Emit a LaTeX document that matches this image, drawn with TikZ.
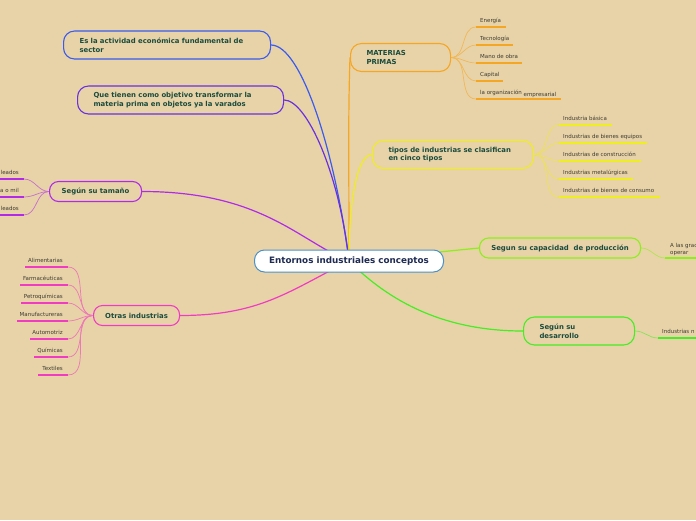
\documentclass[tikz,border=0pt]{standalone}
\usepackage{fontspec}
\setmainfont{DejaVu Sans}
\usetikzlibrary{backgrounds,calc}
\definecolor{bg}{HTML}{E8D3A8}
\definecolor{nodetext}{HTML}{1A4B3C}
\definecolor{leaftext}{HTML}{3D3A30}
\definecolor{cblue}{HTML}{3A5AF0}
\definecolor{cpurple}{HTML}{6A30E0}
\definecolor{corange}{HTML}{F5A623}
\definecolor{cyellow}{HTML}{EEEE22}
\definecolor{cviolet}{HTML}{B02AE8}
\definecolor{cpink}{HTML}{F03CC0}
\definecolor{clime}{HTML}{8CEE1A}
\definecolor{cgreen}{HTML}{44EE22}
\definecolor{cnavy}{HTML}{1E2B52}
\definecolor{cborder}{HTML}{4A90C8}
\tikzset{
 mbox/.style={draw=#1, line width=1.1pt, rounded corners=11pt, fill=bg, text=nodetext,
   font=\bfseries\fontsize{6.9}{8.6}\selectfont, inner ysep=0pt, anchor=west},
 conn/.style={draw=#1, line width=1.2pt},
 leaf/.style={font=\fontsize{5.5}{7}\selectfont, text=leaftext, inner sep=0pt},
 uline/.style={draw=#1, line width=2pt},
 lconn/.style={draw=#1!60!bg, line width=0.7pt},
}
% right leaf: name, from, color, x1, x2, y, text
\newcommand\rleaf[7]{%
 \coordinate (#1a) at (#4,#6); \coordinate (#1b) at (#5,#6);
 \node[leaf,anchor=base west] (#1) at ({#4+4},{#6-4.3}) {#7};
 \draw[uline=#3] (#1a) -- (#1b);
 \begin{scope}[on background layer]\draw[lconn=#3] (#2) to[out=0,in=180] (#1a);\end{scope}}
% left leaf
\newcommand\lleaf[7]{%
 \coordinate (#1a) at (#4,#6); \coordinate (#1b) at (#5,#6);
 \node[leaf,anchor=base east] (#1) at ({#5-5},{#6-4.3}) {#7};
 \draw[uline=#3] (#1a) -- (#1b);
 \begin{scope}[on background layer]\draw[lconn=#3] (#2) to[out=180,in=0] (#1b);\end{scope}}
\begin{document}
\begin{tikzpicture}[x=1pt,y=-1pt]
\begin{scope}[on background layer]
\fill[bg] (0,0) rectangle (696,520);
\end{scope}
\useasboundingbox (0,0) rectangle (696,520);
\clip (0,0) rectangle (696,520);

% main nodes
\node[draw=cborder, line width=1pt, rounded corners=10pt, fill=white, text=cnavy,
  font=\bfseries\fontsize{8.8}{10}\selectfont, minimum width=189pt, minimum height=22pt,
  inner sep=0pt, anchor=west] (c) at (254,261) {Entornos industriales conceptos};

\node[mbox=cblue, text width=175pt, inner xsep=16pt, minimum height=28pt, align=left]
  (b1) at (63,45) {Es la actividad económica fundamental de\\sector};
\node[mbox=cpurple, text width=174pt, inner xsep=16pt, minimum height=28pt, align=left]
  (b2) at (77,100) {Que tienen como objetivo transformar la\\materia prima en objetos ya la varados};
\node[mbox=corange, text width=68pt, inner xsep=16pt, minimum height=28pt, align=left]
  (mp) at (350,57.5) {MATERIAS\\PRIMAS};
\node[mbox=cyellow, text width=129pt, inner xsep=16pt, minimum height=28pt, align=left]
  (tp) at (372,154.5) {tipos de industrias se clasifican\\en cinco tipos};
\node[mbox=cviolet, rounded corners=9pt, inner xsep=0pt, minimum width=92pt, minimum height=20pt]
  (st) at (49,191.5) {Según su tamaño};
\node[mbox=cpink, rounded corners=9pt, inner xsep=0pt, minimum width=86pt, minimum height=20pt]
  (ot) at (93,315.5) {Otras industrias};
\node[mbox=clime, rounded corners=9pt, inner xsep=0pt, minimum width=161pt, minimum height=20pt]
  (cp) at (479,248) {Segun su capacidad\ \ de producción};
\node[mbox=cgreen, text width=79pt, inner xsep=16pt, minimum height=28pt, align=left]
  (dv) at (523,331) {Según su\\desarrollo};

% main connectors
\begin{scope}[on background layer]
\draw[conn=cblue] (b1.east) .. controls +(30,0) and +(-14,-110) .. (c.center);
\draw[conn=cpurple] (b2.east) .. controls +(22,0) and +(-10,-90) .. (c.center);
\draw[conn=corange] (mp.west) .. controls +(-2,60) and +(0,-100) .. (c.center);
\draw[conn=cyellow] (tp.west) .. controls +(-15,0) and +(0,-60) .. (c.center);
\draw[conn=cviolet] (st.east) .. controls +(120,0) and +(-50,-20) .. (c.center);
\draw[conn=cpink] (ot.east) .. controls +(80,0) and +(-60,30) .. (c.center);
\draw[conn=clime] (cp.west) -- (c.center);
\draw[conn=cgreen] (dv.west) .. controls +(-80,0) and +(40,40) .. (c.center);
\end{scope}

% materias primas leaves
\rleaf{ma}{mp.east}{corange}{476}{506}{27}{Energía}
\rleaf{mb}{mp.east}{corange}{476}{513}{45}{Tecnología}
\rleaf{mc}{mp.east}{corange}{476}{522}{63}{Mano de obra}
\rleaf{md}{mp.east}{corange}{476}{503}{81}{Capital}
\rleaf{me}{mp.east}{corange}{476}{561}{99}{la organización \raisebox{-1.3pt}{empresarial}}

% tipos leaves
\rleaf{ta}{tp.east}{cyellow}{559}{612}{125}{Industria básica}
\rleaf{tb}{tp.east}{cyellow}{559}{647}{143}{Industrias de bienes equipos}
\rleaf{tc}{tp.east}{cyellow}{559}{641}{161}{Industrias de construcción}
\rleaf{td}{tp.east}{cyellow}{559}{633}{179}{Industrias metalúrgicas}
\rleaf{te}{tp.east}{cyellow}{559}{660}{197}{Industrias de bienes de consumo}

% tamaño leaves
\lleaf{sa}{st.west}{cviolet}{-2}{24}{179}{leados}
\lleaf{sb}{st.west}{cviolet}{-2}{24}{197}{a o mil}
\lleaf{sc}{st.west}{cviolet}{-2}{24}{215}{leados}

% otras leaves
\lleaf{oa}{ot.west}{cpink}{25}{68}{267}{Alimentarias}
\lleaf{ob}{ot.west}{cpink}{20}{68}{285}{Farmacéuticas}
\lleaf{oc}{ot.west}{cpink}{21}{68}{303}{Petroquímicas}
\lleaf{od}{ot.west}{cpink}{17}{68}{321}{Manufactureras}
\lleaf{oe}{ot.west}{cpink}{30}{68}{339}{Automotriz}
\lleaf{of}{ot.west}{cpink}{34}{68}{357}{Químicas}
\lleaf{og}{ot.west}{cpink}{38}{68}{375}{Textiles}

% capacidad leaf
\coordinate (kaa) at (665,258); \coordinate (kab) at (700,258);
\node[leaf, align=left, anchor=south west] (ka) at (670,256) {A las grac\\operar};
\draw[uline=clime] (kaa) -- (kab);
\begin{scope}[on background layer]\draw[lconn=clime] (cp.east) to[out=0,in=180] (kaa);\end{scope}

% desarrollo leaf
\rleaf{da}{dv.east}{cgreen}{658}{700}{338}{Industrias n}
\end{tikzpicture}
\end{document}
